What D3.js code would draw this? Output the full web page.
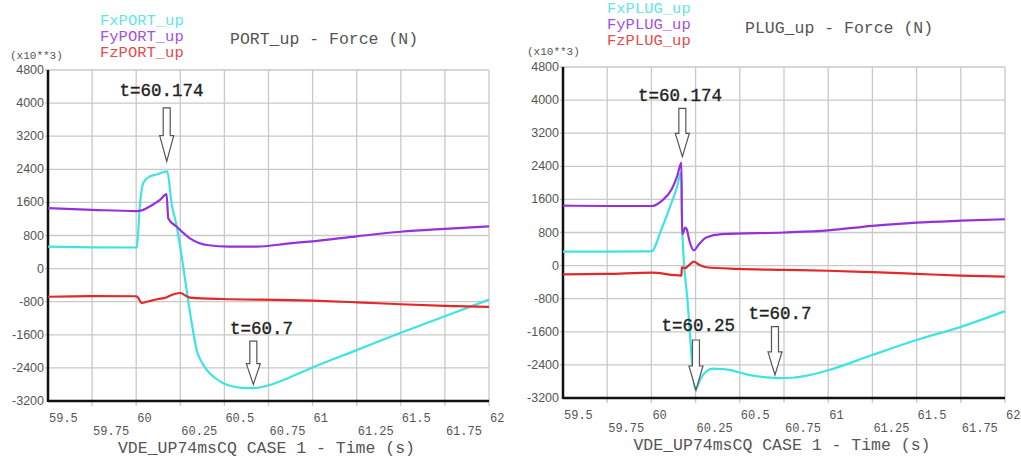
<!DOCTYPE html>
<html>
<head>
<meta charset="utf-8">
<script src="https://cdn.jsdelivr.net/npm/d3@7"></script>
<style>
  body { margin: 0; background: #fff; }
  svg { display: block; }
</style>
</head>
<body>
<div class="graph"></div>
<script>
// tick values shared by both plots
const timeTicks = [59.5, 59.75, 60, 60.25, 60.5, 60.75, 61, 61.25, 61.5, 61.75, 62];
const forceTicks = [4800, 4000, 3200, 2400, 1600, 800, 0, -800, -1600, -2400, -3200];

// PORT_up  [time s, force x10**3 N]
const portFx = [[59.5,530],[59.75,515],[60.0,510],[60.003,520],[60.022,1590],[60.04,2070],[60.078,2230],[60.12,2280],[60.176,2350],[60.2,1590],[60.23,1010],[60.258,290],[60.286,-520],[60.315,-1320],[60.343,-1970],[60.37,-2250],[60.4,-2450],[60.45,-2650],[60.494,-2770],[60.55,-2850],[60.6,-2885],[60.664,-2890],[60.75,-2820],[60.87,-2630],[61.0,-2390],[61.25,-1970],[61.5,-1550],[61.75,-1150],[62,-750]];
const portFy = [[59.5,1460],[59.75,1420],[60.0,1390],[60.04,1420],[60.08,1510],[60.135,1660],[60.172,1800],[60.182,1210],[60.23,1010],[60.305,730],[60.4,570],[60.53,530],[60.68,530],[60.87,610],[61.0,660],[61.25,780],[61.5,890],[61.75,960],[62,1020]];
const portFz = [[59.5,-680],[59.75,-665],[60.0,-668],[60.01,-700],[60.03,-830],[60.07,-790],[60.12,-740],[60.17,-700],[60.2,-640],[60.248,-590],[60.305,-700],[60.49,-735],[60.87,-760],[61.0,-775],[61.25,-815],[61.5,-862],[61.75,-900],[62,-925]];

// PLUG_up
const plugFx = [[59.5,340],[59.75,340],[60.0,345],[60.057,880],[60.114,1520],[60.145,1900],[60.168,2250],[60.176,720],[60.205,-880],[60.233,-2480],[60.248,-3000],[60.262,-2900],[60.28,-2720],[60.31,-2560],[60.345,-2490],[60.4,-2500],[60.44,-2520],[60.55,-2640],[60.65,-2700],[60.72,-2720],[60.8,-2710],[60.88,-2660],[61.0,-2530],[61.25,-2160],[61.5,-1800],[61.75,-1480],[62,-1100]];
const plugFy = [[59.5,1450],[59.75,1440],[60.0,1440],[60.057,1560],[60.114,1840],[60.145,2150],[60.17,2490],[60.173,760],[60.18,800],[60.19,920],[60.2,880],[60.215,600],[60.24,370],[60.27,520],[60.31,680],[60.4,760],[60.75,800],[61.0,850],[61.25,960],[61.5,1040],[61.75,1085],[62,1120]];
const plugFz = [[59.5,-210],[59.75,-200],[60.0,-170],[60.17,-240],[60.172,-40],[60.19,-60],[60.215,20],[60.24,96],[60.27,20],[60.31,-40],[60.49,-80],[60.75,-105],[61.0,-125],[61.25,-160],[61.5,-200],[61.75,-240],[62,-265]];

const portNames = ["FxPORT_up", "FyPORT_up", "FzPORT_up"];
const plugNames = ["FxPLUG_up", "FyPLUG_up", "FzPLUG_up"];

// annotations: label, arrow time, tip force, tail force, label time, label force
const portNotes = [
  ["t=60.174", 60.173, 2590, 3885, 60.144, 4175],
  ["t=60.7", 60.664, -2800, -1754, 60.711, -1569]
];
const plugNotes = [
  ["t=60.174", 60.175, 2632, 3802, 60.162, 3978],
  ["t=60.25", 60.252, -3007, -1798, 60.265, -1581],
  ["t=60.7", 60.699, -2644, -1477, 60.727, -1291]
];

const lineColors = ["#3fe3e3", "#9630dc", "#e22828"];
const legendColors = ["#62e6e6", "#a450e2", "#e44c4c"];

var w = 1021, h = 457;
var svg = d3.select(".graph").append("svg")
  .attr("width", w)
  .attr("height", h);

var mono = "'Liberation Mono', 'DejaVu Sans Mono', monospace";

function drawPlot(cfg) {
  var x = d3.scaleLinear().domain([59.5, 62]).range([cfg.left, cfg.right]);
  var y = d3.scaleLinear().domain([-3200, 4800]).range([cfg.bottom, cfg.top]);
  var g = svg.append("g");

  // grid
  g.selectAll(".vgrid").data(timeTicks.slice(1)).enter().append("line")
    .attr("x1", d => x(d)).attr("x2", d => x(d))
    .attr("y1", cfg.top).attr("y2", cfg.bottom + 5)
    .attr("stroke", "#c9c9c9").attr("stroke-width", 1.3);
  g.selectAll(".hgrid").data(forceTicks.slice(0, -1)).enter().append("line")
    .attr("x1", cfg.left - 3).attr("x2", cfg.right)
    .attr("y1", d => y(d)).attr("y2", d => y(d))
    .attr("stroke", "#c9c9c9").attr("stroke-width", 1.3);

  // y labels
  g.selectAll(".ylab").data(forceTicks).enter().append("text")
    .attr("x", cfg.left - 4)
    .attr("y", d => y(d) + 4)
    .attr("text-anchor", "end")
    .attr("font-family", "'Liberation Sans', Arial, sans-serif")
    .attr("font-size", "12.5px")
    .attr("fill", "#555")
    .text(d => d);

  // x labels, two staggered rows, left aligned at the tick
  g.selectAll(".xlab").data(timeTicks).enter().append("text")
    .attr("x", d => x(d) + 1)
    .attr("y", (d, i) => i % 2 == 0 ? cfg.bottom + 21 : cfg.bottom + 34)
    .attr("font-family", mono)
    .attr("font-size", "12px")
    .attr("fill", "#555")
    .text(d => d);

  // axes
  g.append("line")
    .attr("x1", cfg.left).attr("x2", cfg.left)
    .attr("y1", cfg.top).attr("y2", cfg.bottom + 1)
    .attr("stroke", "#111").attr("stroke-width", 2.5);
  g.append("line")
    .attr("x1", cfg.left).attr("x2", cfg.right)
    .attr("y1", cfg.bottom).attr("y2", cfg.bottom)
    .attr("stroke", "#111").attr("stroke-width", 2.5);

  // series
  var line = d3.line()
    .x(d => x(d[0]))
    .y(d => y(d[1]))
    .curve(d3.curveMonotoneX);
  [cfg.fx, cfg.fy, cfg.fz].forEach((s, i) => {
    g.append("path")
      .attr("d", line(s))
      .attr("fill", "none")
      .attr("stroke", lineColors[i])
      .attr("stroke-width", 2.2)
      .attr("stroke-linejoin", "round");
  });

  // legend + titles
  g.selectAll(".leg").data(cfg.names).enter().append("text")
    .attr("x", cfg.legendX)
    .attr("y", (d, i) => cfg.legendY + i * 16)
    .attr("font-family", mono)
    .attr("font-size", "15.5px")
    .attr("fill", (d, i) => legendColors[i])
    .text(d => d);
  g.append("text")
    .attr("x", cfg.titleX).attr("y", cfg.titleY)
    .attr("font-family", mono)
    .attr("font-size", "16.5px")
    .attr("fill", "#555")
    .attr("xml:space", "preserve")
    .text(cfg.title);
  g.append("text")
    .attr("x", cfg.unitX).attr("y", cfg.unitY)
    .attr("font-family", mono)
    .attr("font-size", "11px")
    .attr("fill", "#555")
    .text("(x10**3)");
  g.append("text")
    .attr("x", (cfg.left + cfg.right) / 2 - 2).attr("y", cfg.bottom + 52)
    .attr("text-anchor", "middle")
    .attr("font-family", mono)
    .attr("font-size", "16.5px")
    .attr("fill", "#555")
    .text("VDE_UP74msCQ CASE 1 - Time (s)");

  // hollow arrows + labels
  cfg.notes.forEach(n => {
    var ax = x(n[1]), tip = y(n[2]), top = y(n[3]);
    var hs = tip - (tip - top) * 0.48;
    var p = d3.path();
    p.moveTo(ax - 3.5, top);
    p.lineTo(ax - 3.5, hs);
    p.lineTo(ax - 7, hs);
    p.lineTo(ax, tip);
    p.lineTo(ax + 7, hs);
    p.lineTo(ax + 3.5, hs);
    p.lineTo(ax + 3.5, top);
    p.closePath();
    g.append("path")
      .attr("d", p.toString())
      .attr("fill", "#fff")
      .attr("stroke", "#555")
      .attr("stroke-width", 1.2);
    g.append("text")
      .attr("x", x(n[4])).attr("y", y(n[5]))
      .attr("text-anchor", "middle")
      .attr("font-family", mono)
      .attr("font-size", "17.5px")
      .attr("fill", "#222")
      .attr("stroke", "#222")
      .attr("stroke-width", 0.35)
      .text(n[0]);
  });
}

drawPlot({
  left: 48, right: 489, top: 70, bottom: 401,
  fx: portFx, fy: portFy, fz: portFz, names: portNames, notes: portNotes,
  legendX: 100, legendY: 25, title: "PORT_up - Force (N)", titleX: 230, titleY: 44,
  unitX: 10, unitY: 59
});
drawPlot({
  left: 563, right: 1005, top: 67, bottom: 398,
  fx: plugFx, fy: plugFy, fz: plugFz, names: plugNames, notes: plugNotes,
  legendX: 607, legendY: 13, title: "PLUG_up - Force (N)", titleX: 745, titleY: 33,
  unitX: 527, unitY: 55
});
</script>
</body>
</html>
